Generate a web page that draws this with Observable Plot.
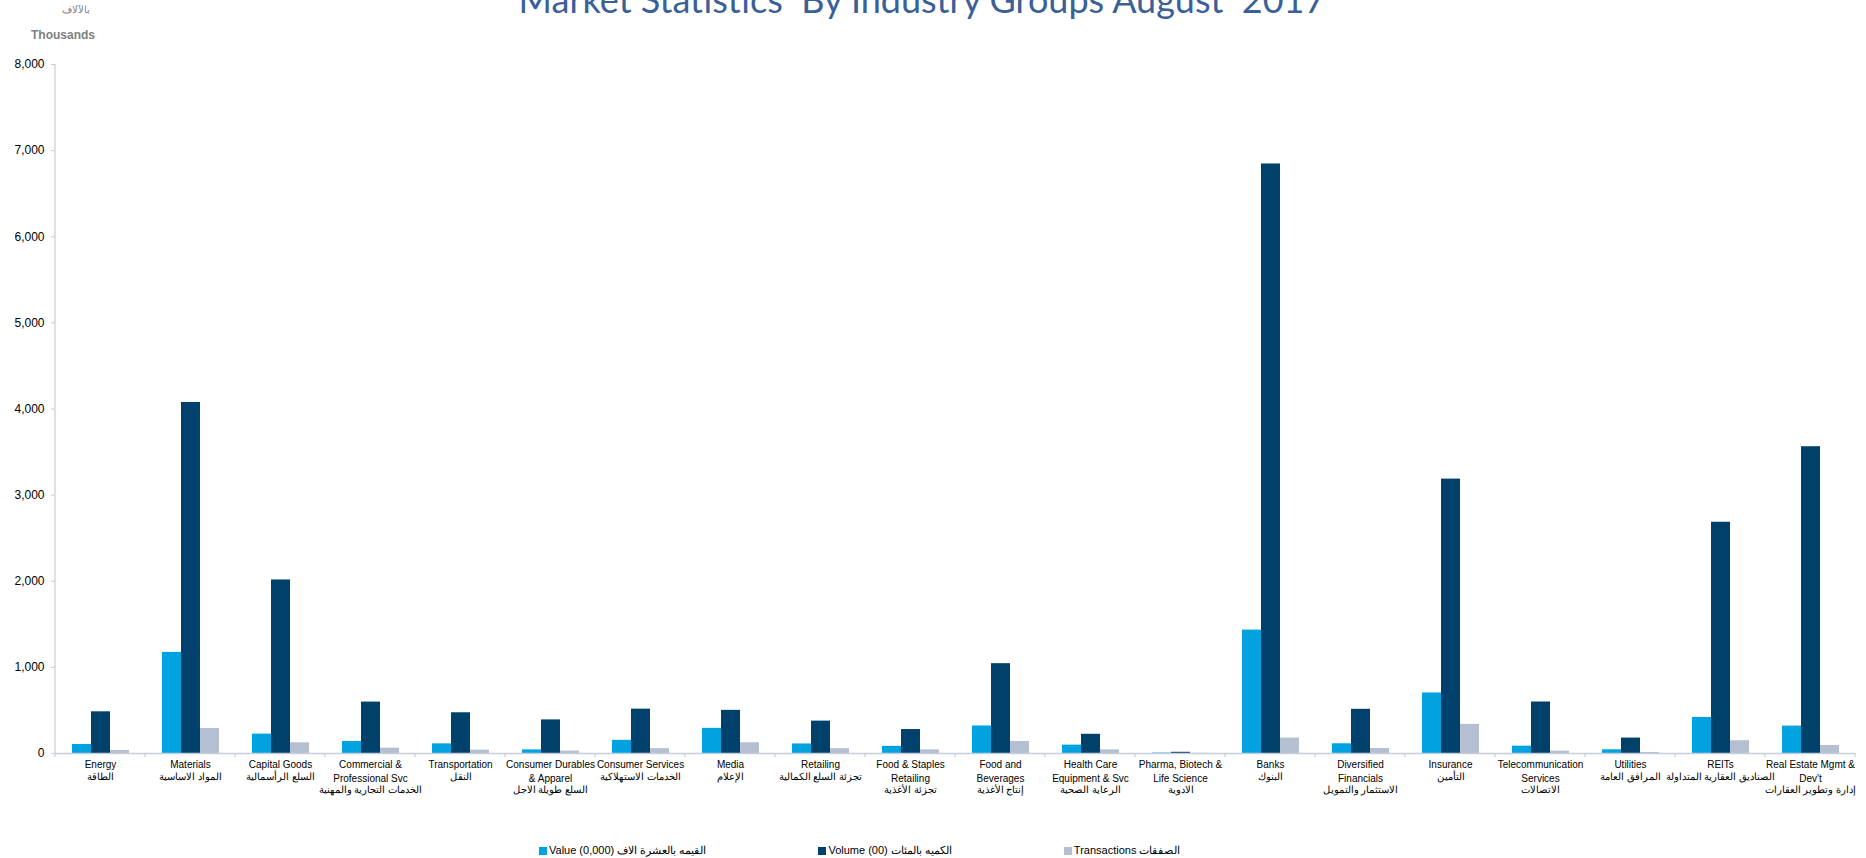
<!DOCTYPE html>
<html>
<head>
<meta charset="utf-8">
<script src="https://cdn.jsdelivr.net/npm/d3@7"></script>
<script src="https://cdn.jsdelivr.net/npm/@observablehq/plot@0.6"></script>
<style>
  body { margin: 0; background: #fff; width: 1866px; height: 858px; overflow: hidden; position: relative;
         font-family: "Liberation Sans", Arial, sans-serif; }
  #title { position: absolute; left: -11px; width: 1866px; top: -21px; text-align: center;
           font-family: Lato, "Open Sans", sans-serif; font-size: 36px; line-height: 40px; color: #3a6097; white-space: nowrap; }
  #unitAr { position: absolute; left: 62px; top: 4px; font-size: 10px; color: #808080; }
  #unit { position: absolute; left: 31px; top: 28px; font-size: 12px; font-weight: bold; color: #808080; }
  #chart { position: absolute; left: 0; top: 0; }
  #legend { position: absolute; left: 539px; top: 844px; display: flex; font-size: 11px; color: #000; }
  .item { display: flex; align-items: center; margin-right: 112px; white-space: nowrap; }
  .sw { width: 8px; height: 8px; margin-right: 2px; display: inline-block; }
</style>
</head>
<body>
<div id="chart"></div>
<div id="title">Market Statistics&nbsp; By Industry Groups August&nbsp; 2017</div>
<div id="unitAr">بالآلاف</div>
<div id="unit">Thousands</div>
<div id="legend"></div>
<script>
// ---- data ----
const categories = [
  "Energy", "Materials", "Capital Goods", "Commercial & Professional Svc", "Transportation",
  "Consumer Durables & Apparel", "Consumer Services", "Media", "Retailing", "Food & Staples Retailing",
  "Food and Beverages", "Health Care Equipment & Svc", "Pharma, Biotech & Life Science", "Banks",
  "Diversified Financials", "Insurance", "Telecommunication Services", "Utilities", "REITs",
  "Real Estate Mgmt & Dev't"
];
const englishLines = [
  ["Energy"], ["Materials"], ["Capital Goods"], ["Commercial &", "Professional Svc"], ["Transportation"],
  ["Consumer Durables", "& Apparel"], ["Consumer Services"], ["Media"], ["Retailing"], ["Food & Staples", "Retailing"],
  ["Food and", "Beverages"], ["Health Care", "Equipment & Svc"], ["Pharma, Biotech &", "Life Science"], ["Banks"],
  ["Diversified", "Financials"], ["Insurance"], ["Telecommunication", "Services"], ["Utilities"], ["REITs"],
  ["Real Estate Mgmt &", "Dev't"]
];
const arabicLabels = [
  "الطاقة", "المواد الاساسية", "السلع الرأسمالية", "الخدمات التجارية والمهنية", "النقل",
  "السلع طويلة الاجل", "الخدمات الاستهلاكية", "الإعلام", "تجزئة السلع الكمالية", "تجزئة الأغذية",
  "إنتاج الأغذية", "الرعاية الصحية", "الادوية", "البنوك",
  "الاستثمار والتمويل", "التأمين", "الاتصالات", "المرافق العامة", "الصناديق العقارية المتداولة",
  "إدارة وتطوير العقارات"
];
const series = ["Value", "Volume", "Transactions"];
const seriesLegend = ["Value  (0,000) القيمه بالعشرة الاف", "Volume (00) الكميه بالمئات", "Transactions الصفقات"];
const seriesColors = ["#00a3e0", "#00416b", "#b5bfd2"];
const valueData =        [105, 1174, 225, 140, 112,  42, 153, 292, 111,  83,  320,  97,  5, 1433, 113,  703,  85,  43,  419,  318];
const volumeData =       [484, 4076, 2015, 597, 473, 390, 515, 501, 376, 278, 1043, 223, 14, 6845, 513, 3186, 598, 179, 2685, 3562];
const transactionsData = [ 35,  290, 124,  62,  39,  28,  56, 125,  56,  42,  139,  42,  2,  179,  58,  338,  27,  12,  148,   93];
const yTicks = [0, 1000, 2000, 3000, 4000, 5000, 6000, 7000, 8000];

// ---- build table ----
const seriesValues = [valueData, volumeData, transactionsData];
const rows = [];
categories.forEach((c, i) => series.forEach((s, j) => rows.push({category: c, series: s, value: seriesValues[j][i]})));
const englishOf = new Map(categories.map((c, i) => [c, englishLines[i].join("\n")]));
const arabicOf = new Map(categories.map((c, i) => [c, arabicLabels[i]]));
const oneLine = categories.filter((c, i) => englishLines[i].length === 1);
const twoLine = categories.filter((c, i) => englishLines[i].length === 2);

const axisColor = "#c5cedb";

const plot = Plot.plot({
  width: 1866,
  height: 805,
  marginTop: 64,
  marginBottom: 52,
  marginLeft: 49,
  marginRight: 6,
  style: {fontFamily: "'Liberation Sans', Arial, sans-serif", fontSize: "10px", color: "#000", background: "transparent", overflow: "visible"},
  fx: {domain: categories, paddingInner: 0, paddingOuter: 0, label: null},
  x: {domain: series, paddingInner: 0, paddingOuter: 0.77, axis: null},
  y: {domain: [0, 8000], label: null},
  color: {domain: series, range: seriesColors},
  marks: [
    Plot.barY(rows, {fx: "category", x: "series", y: "value", fill: "series"}),
    Plot.ruleY([0], {stroke: axisColor, strokeWidth: 1.5}),
    Plot.axisY({ticks: yTicks, tickFormat: d3.format(","), tickSize: 4, tickPadding: 7, stroke: axisColor, fontSize: 12, label: null}),
    Plot.axisFx({anchor: "bottom", tickSize: 0, tickPadding: 5, tickFormat: c => englishOf.get(c), lineHeight: 1.35, label: null, fontSize: 10}),
    Plot.axisFx({anchor: "bottom", ticks: oneLine, tickSize: 0, tickPadding: 19.5, tickFormat: c => arabicOf.get(c), label: null, fontSize: 9.5}),
    Plot.axisFx({anchor: "bottom", ticks: twoLine, tickSize: 0, tickPadding: 32.5, tickFormat: c => arabicOf.get(c), label: null, fontSize: 9.5})
  ]
});
document.getElementById("chart").appendChild(plot);

// axis line and category boundary ticks, positioned with the plot's own scales
const fxs = plot.scale("fx"), ys = plot.scale("y");
const y0 = ys.apply(0), yTop = ys.apply(8000);
const bounds = categories.map(c => fxs.apply(c));
bounds.push(fxs.apply(categories[categories.length - 1]) + fxs.bandwidth);
const svg = d3.select(plot);
const g = svg.append("g").attr("stroke", axisColor).attr("stroke-width", 1.2);
g.append("line").attr("x1", bounds[0]).attr("x2", bounds[0]).attr("y1", yTop).attr("y2", y0);
bounds.forEach(b => g.append("line").attr("x1", b).attr("x2", b).attr("y1", y0).attr("y2", y0 + 4));

// legend
const legend = d3.select("#legend");
series.forEach((s, i) => {
  const it = legend.append("div").attr("class", "item");
  it.append("span").attr("class", "sw").style("background", seriesColors[i]);
  it.append("span").text(seriesLegend[i]);
});
</script>
</body>
</html>
